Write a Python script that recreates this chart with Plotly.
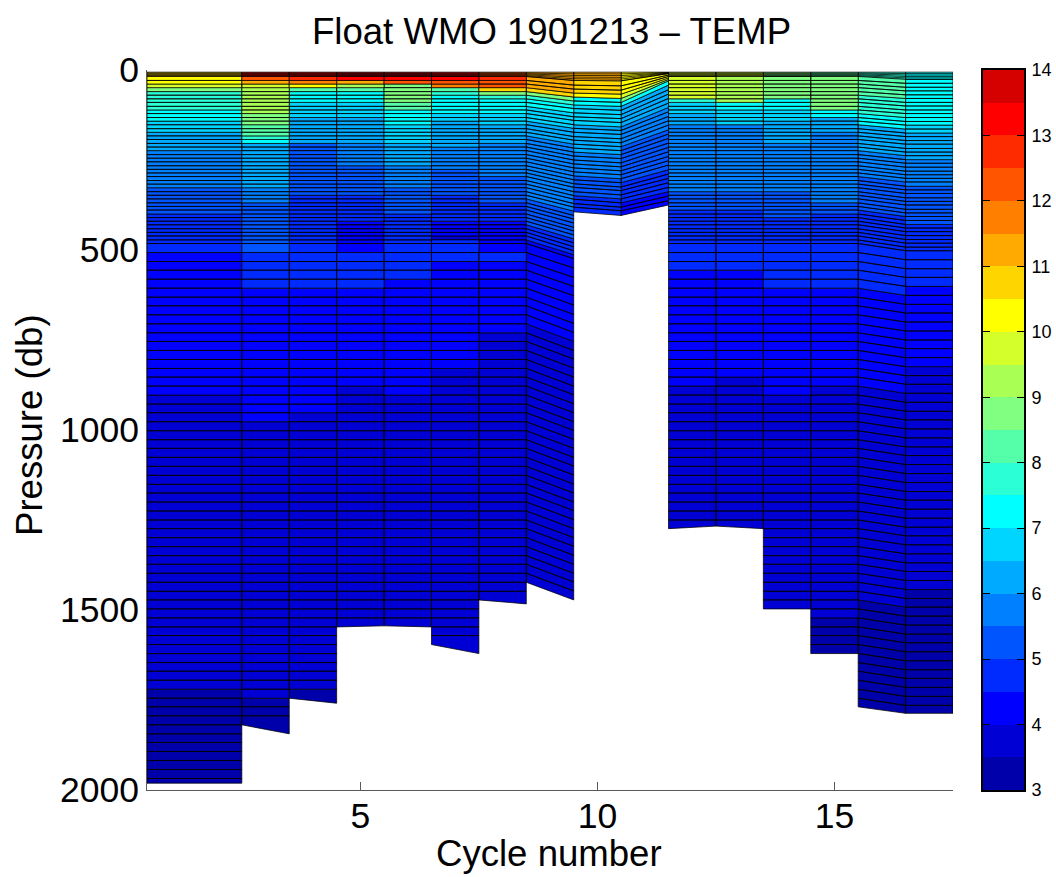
import plotly.graph_objects as go

# Column edges on the cycle axis
X_EDGES = [0.5, 2.5, 3.5, 4.5, 5.5, 6.5, 7.5, 8.5, 9.5, 10.5, 11.5, 12.5, 13.5, 14.5, 15.5, 16.5, 17.5]

# Pressure levels (db) read along the column edges
P_STD = [6, 18, 29, 39, 49, 60, 70, 80, 90, 101, 111, 121, 132, 142, 152, 163, 173, 183, 193, 204,
         214, 224, 235, 245, 255, 266, 276, 286, 296, 307, 317, 327, 338, 348, 358, 369, 379, 389, 400, 410,
         420, 430, 441, 451, 461, 472, 482, 507, 532, 556, 581, 606, 631, 655, 680, 705, 730, 754, 779, 804,
         829, 853, 878, 903, 928, 952, 977, 1002, 1027, 1051, 1076, 1101, 1126, 1151, 1175, 1200, 1225, 1250, 1274, 1299,
         1324, 1349, 1373, 1398, 1423, 1448, 1472, 1497, 1522, 1547, 1571, 1596, 1621, 1646, 1670, 1695, 1720, 1745, 1769, 1794,
         1819, 1844, 1868, 1893, 1918, 1943, 1968, 1981]
P_EDGE_9_5 = [6, 29, 42, 53, 64, 75, 86, 97, 107, 119, 130, 140, 152, 162, 173, 185, 195, 206, 217, 228,
              239, 250, 261, 272, 283, 294, 305, 316, 326, 338, 349, 359, 371, 381, 392, 404, 414, 425, 437, 447,
              458, 469, 480, 491, 502, 513, 524, 550, 576, 601, 627, 653, 679, 704, 729, 754, 779, 803, 828, 853,
              878, 902, 927, 952, 977, 1001, 1026, 1051, 1076, 1100, 1125, 1150, 1175, 1200, 1224, 1249, 1274, 1299, 1323, 1348,
              1373, 1398, 1422, 1447, 1472]
P_EDGE_10_5 = [6, 30, 44, 56, 67, 79, 90, 101, 112, 124, 135, 146, 158, 168, 179, 191, 202, 213, 224, 235,
               246, 258, 269, 280, 291, 302, 313, 325, 335, 347, 358, 369, 381, 391, 404]
P_EDGE_11_5_R = [6, 10, 14, 18, 22, 26, 30, 42, 55, 67, 79, 92, 104, 116, 129, 141, 153, 166, 178, 190,
                 203, 215, 227, 240, 252, 264, 277, 289, 301, 313, 326, 338, 350, 363, 375]
P_EDGE_16_5 = [6, 26, 37, 48, 58, 69, 79, 90, 100, 111, 121, 132, 143, 153, 164, 175, 185, 196, 206, 218,
               228, 238, 249, 259, 270, 281, 291, 301, 311, 323, 333, 343, 355, 365, 375, 387, 397, 407, 418, 429,
               439, 449, 460, 471, 481, 492, 502, 527, 552, 576, 601, 626, 651, 675, 700, 725, 750, 774, 799, 824,
               849, 873, 898, 923, 948, 972, 997, 1022, 1047, 1071, 1096, 1121, 1146, 1171, 1195, 1220, 1245, 1270, 1294, 1319,
               1344, 1369, 1393, 1418, 1443, 1468, 1492, 1517, 1542, 1567, 1591, 1616, 1641, 1666, 1690, 1715, 1740, 1765, 1787]

# Deepest pressure of each column on its left and right edge
BOTTOM_LEFT = [1981, 1819, 1745, 1547, 1544, 1596, 1472, 1423, 394, 404, 1274, 1267, 1497, 1621, 1769, 1787]
BOTTOM_RIGHT = [1981, 1844, 1759, 1544, 1547, 1621, 1483, 1472, 404, 375, 1267, 1274, 1497, 1621, 1787, 1787]

# The closely spaced surface samples inside the top cell, as fractions of that cell
SURFACE_FRACTIONS = [0.2, 0.4, 0.6, 0.8]

# Temperature in each column, one value per cell, top to bottom
T_COL_01 = [10.8, 10.3, 10.1, 9.7, 8.8, 7.9, 7.9, 7.9, 7.9, 7.9, 7.2, 7.2, 7.2, 6.8, 6.8, 6.8, 6.3, 6.3, 6.3, 6.3,
            6.3, 5.8, 5.8, 5.8, 5.8, 5.8, 5.8, 5.8, 5.8, 5.8, 5.8, 5.3, 5.3, 5.3, 5.3, 5.3, 5.3, 5.3, 4.8, 4.8,
            4.8, 4.8, 4.8, 4.8, 4.8, 4.8, 4.8, 4.3, 4.3, 4.3, 4.3, 4.3, 4.3, 4.3, 4.3, 4.3, 4.3, 4.3, 4.3, 4.3,
            4.3, 4.3, 4.3, 3.8, 3.8, 3.8, 3.8, 3.8, 3.8, 3.8, 3.8, 3.8, 3.8, 3.8, 3.8, 3.8, 3.8, 3.8, 3.8, 3.8,
            3.8, 3.8, 3.8, 3.8, 3.8, 3.8, 3.8, 3.8, 3.8, 3.8, 3.8, 3.8, 3.8, 3.8, 3.8, 3.8, 3.4, 3.4, 3.4, 3.4,
            3.4, 3.4, 3.4, 3.4, 3.4, 3.4, 3.4]
T_COL_02 = [13.0, 12.4, 11.2, 9.7, 9.2, 9.2, 9.2, 9.2, 9.2, 9.2, 9.2, 8.7, 8.7, 8.7, 8.2, 8.2, 8.2, 7.7, 7.2, 6.4,
            6.4, 6.4, 6.4, 6.4, 6.4, 6.2, 6.2, 6.2, 6.2, 6.2, 6.2, 5.8, 5.8, 5.8, 5.8, 5.3, 5.3, 5.3, 5.3, 5.3,
            5.3, 5.3, 5.1, 5.1, 5.1, 5.1, 5.1, 4.9, 4.9, 4.9, 4.9, 4.3, 4.3, 4.3, 4.3, 4.3, 4.3, 4.3, 4.3, 4.3,
            4.3, 4.3, 4.3, 4.3, 4.3, 4.3, 3.8, 3.8, 3.8, 3.8, 3.8, 3.8, 3.8, 3.8, 3.8, 3.8, 3.8, 3.8, 3.8, 3.8,
            3.8, 3.8, 3.8, 3.8, 3.8, 3.8, 3.8, 3.8, 3.8, 3.8, 3.8, 3.8, 3.8, 3.8, 3.8, 3.8, 3.8, 3.4, 3.4, 3.4]
T_COL_03 = [13.2, 12.5, 11.7, 10.3, 8.2, 7.2, 7.2, 7.2, 6.8, 6.8, 6.8, 6.8, 6.3, 6.3, 6.0, 6.0, 6.0, 6.0, 6.0, 5.3,
            5.3, 5.3, 5.3, 5.3, 5.3, 5.4, 5.4, 5.4, 5.4, 5.4, 5.4, 5.4, 5.4, 4.8, 4.8, 4.8, 4.8, 4.8, 4.8, 4.8,
            4.5, 4.5, 4.5, 4.5, 4.5, 4.5, 4.5, 4.6, 4.6, 4.6, 4.6, 4.3, 4.3, 4.3, 4.3, 4.3, 4.3, 4.3, 4.3, 4.3,
            4.3, 4.3, 4.3, 4.3, 4.3, 3.8, 3.8, 3.8, 3.8, 3.8, 3.8, 3.8, 3.8, 3.8, 3.8, 3.8, 3.8, 3.8, 3.8, 3.8,
            3.8, 3.8, 3.8, 3.8, 3.8, 3.8, 3.8, 3.8, 3.8, 3.8, 3.8, 3.8, 3.8, 3.8, 3.8, 3.8, 3.4]
T_COL_04 = [13.5, 13.1, 11.0, 9.0, 8.0, 7.2, 7.2, 7.2, 6.9, 6.9, 6.9, 6.9, 6.3, 6.3, 6.3, 6.3, 6.3, 6.3, 6.3, 5.5,
            5.5, 5.5, 5.5, 5.5, 5.5, 5.3, 5.3, 5.3, 5.3, 5.3, 5.3, 5.3, 5.3, 4.8, 4.8, 4.8, 4.8, 4.8, 4.8, 4.8,
            4.4, 4.4, 4.4, 4.4, 4.4, 4.4, 4.4, 4.6, 4.6, 4.6, 4.6, 4.3, 4.3, 4.3, 4.3, 4.3, 4.3, 4.3, 4.3, 4.3,
            4.3, 4.3, 3.8, 3.8, 3.8, 3.8, 3.8, 3.8, 3.8, 3.8, 3.8, 3.8, 3.8, 3.8, 3.8, 3.8, 3.8, 3.8, 3.8, 3.8,
            3.8, 3.8, 3.8, 3.8, 3.8, 3.8, 3.8, 3.8, 3.8]
T_COL_05 = [13.7, 13.2, 12.0, 8.8, 8.7, 8.7, 8.7, 8.7, 8.0, 8.0, 7.2, 7.2, 7.2, 7.2, 6.5, 6.5, 6.5, 6.5, 6.5, 6.0,
            6.0, 6.0, 6.0, 6.0, 6.0, 5.6, 5.6, 5.6, 5.6, 5.6, 5.6, 5.2, 5.2, 5.2, 5.2, 5.2, 5.2, 5.2, 4.6, 4.6,
            4.6, 4.6, 4.6, 4.6, 4.6, 4.6, 4.6, 4.9, 4.9, 4.9, 4.3, 4.3, 4.3, 4.3, 4.3, 4.3, 4.3, 4.3, 4.3, 4.3,
            4.3, 4.3, 4.3, 3.8, 3.8, 3.8, 3.8, 3.8, 3.8, 3.8, 3.8, 3.8, 3.8, 3.8, 3.8, 3.8, 3.8, 3.8, 3.8, 3.8,
            3.8, 3.8, 3.8, 3.8, 3.8, 3.8, 3.8, 3.8, 3.8]
T_COL_06 = [13.4, 13.0, 12.4, 11.8, 8.3, 7.8, 7.2, 7.2, 7.2, 7.0, 7.0, 6.7, 6.7, 6.0, 6.0, 6.0, 6.0, 6.0, 6.0, 6.0,
            5.6, 5.6, 5.6, 5.6, 5.6, 5.6, 5.3, 5.3, 5.3, 5.3, 5.3, 5.3, 5.3, 4.8, 4.8, 4.8, 4.8, 4.8, 4.8, 4.8,
            4.3, 4.3, 4.3, 4.3, 3.9, 4.5, 4.5, 4.7, 4.3, 4.3, 4.3, 4.3, 4.3, 4.3, 4.3, 4.3, 4.3, 4.3, 4.3, 4.3,
            3.8, 3.8, 3.8, 3.8, 3.8, 3.8, 3.8, 3.8, 3.8, 3.8, 3.8, 3.8, 3.8, 3.8, 3.8, 3.8, 3.8, 3.8, 3.8, 3.8,
            3.8, 3.8, 3.8, 3.8, 3.8, 3.8, 3.8, 3.8, 3.8, 3.8, 3.8]
T_COL_07 = [12.3, 12.6, 12.3, 12.0, 10.7, 8.5, 7.6, 7.2, 7.2, 7.0, 7.0, 6.7, 6.7, 6.7, 6.1, 6.1, 6.1, 6.1, 6.1, 5.6,
            5.6, 5.6, 5.6, 5.6, 5.6, 5.6, 5.6, 5.6, 5.3, 5.3, 5.3, 5.3, 5.3, 5.3, 5.3, 4.8, 4.8, 4.8, 4.8, 4.8,
            4.4, 4.4, 4.4, 4.4, 4.4, 4.1, 4.1, 4.7, 4.3, 4.3, 4.3, 4.3, 4.3, 4.3, 4.3, 4.3, 3.8, 3.8, 3.8, 3.8,
            3.8, 3.8, 3.8, 3.8, 3.8, 3.8, 3.8, 3.8, 3.8, 3.8, 3.8, 3.8, 3.8, 3.8, 3.8, 3.8, 3.8, 3.8, 3.8, 3.8,
            3.8, 3.8, 3.8, 3.8, 3.8, 3.8]
T_COL_08 = [11.4, 11.3, 11.3, 11.3, 10.8, 8.5, 7.8, 7.3, 7.3, 6.8, 6.8, 6.8, 6.8, 6.3, 6.3, 6.3, 6.3, 5.9, 5.9, 5.9,
            5.9, 5.9, 5.9, 5.9, 5.9, 5.6, 5.6, 5.6, 5.6, 5.6, 5.6, 5.6, 5.6, 5.6, 5.2, 5.2, 5.2, 5.2, 5.2, 5.0,
            5.0, 4.7, 4.7, 4.7, 4.7, 4.2, 4.2, 4.3, 4.3, 4.3, 4.3, 4.3, 4.3, 4.3, 4.3, 3.8, 3.8, 3.8, 3.8, 3.8,
            3.8, 3.8, 3.8, 3.8, 3.8, 3.8, 3.8, 3.8, 3.8, 3.8, 3.8, 3.8, 3.8, 3.8, 3.8, 3.8, 3.8, 3.8, 3.8, 3.8,
            3.8, 3.8, 3.8, 3.8]
T_COL_09 = [11.0, 10.8, 10.8, 10.8, 10.2, 7.3, 7.3, 6.8, 6.8, 6.8, 6.8, 6.8, 6.3, 6.3, 6.3, 6.3, 6.3, 6.3, 6.3, 5.8,
            5.8, 5.8, 5.8, 5.8, 5.8, 5.3, 5.3, 5.3, 5.3, 5.3, 4.9, 4.9, 4.9, 4.9]
T_COL_10 = [10.2, 10.2, 10.2, 10.2, 9.7, 8.5, 7.3, 6.2, 6.2, 6.2, 6.2, 6.2, 5.8, 5.8, 5.8, 5.8, 5.8, 5.4, 5.4, 5.4,
            5.4, 5.4, 5.4, 5.4, 5.4, 5.4, 4.9, 4.9, 4.9, 4.9, 4.9, 4.4, 4.4, 4.4]
T_COL_11 = [9.8, 9.7, 9.7, 9.7, 9.7, 9.7, 9.7, 7.8, 6.9, 6.9, 6.9, 6.3, 6.3, 6.3, 5.8, 5.8, 5.8, 5.8, 5.8, 5.8,
            5.8, 5.8, 5.7, 5.7, 5.7, 5.7, 5.7, 5.7, 5.7, 5.7, 5.7, 5.7, 5.3, 5.3, 5.3, 5.3, 5.3, 4.7, 4.7, 4.7,
            4.7, 4.7, 4.7, 4.7, 4.7, 4.7, 4.7, 4.7, 4.7, 4.3, 4.3, 4.3, 4.3, 4.3, 4.3, 4.3, 4.3, 4.3, 4.3, 4.3,
            4.3, 4.3, 3.8, 3.8, 3.8, 3.8, 3.8, 3.8, 3.8, 3.8, 3.8, 3.8, 3.8, 3.8, 3.8, 3.8, 3.8, 3.8]
T_COL_12 = [9.5, 9.2, 9.2, 9.2, 9.2, 9.2, 9.2, 9.2, 7.2, 7.2, 6.5, 6.5, 6.5, 6.5, 5.9, 5.9, 5.9, 5.9, 5.9, 5.9,
            5.9, 5.9, 5.7, 5.7, 5.7, 5.7, 5.7, 5.7, 5.7, 5.7, 5.7, 5.7, 5.3, 5.3, 5.3, 5.3, 5.3, 4.8, 4.8, 4.8,
            4.8, 4.8, 4.8, 4.8, 4.8, 4.8, 4.7, 4.7, 4.7, 4.3, 4.3, 4.3, 4.3, 4.3, 4.3, 4.3, 4.3, 4.3, 4.3, 4.3,
            4.3, 3.8, 3.8, 3.8, 3.8, 3.8, 3.8, 3.8, 3.8, 3.8, 3.8, 3.8, 3.8, 3.8, 3.8, 3.8, 3.8, 3.8]
T_COL_13 = [8.7, 8.8, 8.8, 8.8, 8.8, 8.8, 8.8, 7.3, 7.3, 7.3, 6.8, 6.8, 6.8, 6.2, 6.2, 6.2, 6.2, 6.2, 6.2, 5.8,
            5.8, 5.8, 5.8, 5.8, 5.8, 5.8, 5.8, 5.8, 5.8, 5.8, 5.8, 5.8, 5.3, 5.3, 5.3, 5.3, 5.3, 5.3, 5.3, 4.7,
            4.7, 4.7, 4.7, 4.7, 4.7, 4.7, 4.7, 4.8, 4.8, 4.8, 4.8, 4.3, 4.3, 4.3, 4.3, 4.3, 4.3, 4.3, 4.3, 4.3,
            4.3, 4.3, 4.3, 3.8, 3.8, 3.8, 3.8, 3.8, 3.8, 3.8, 3.8, 3.8, 3.8, 3.8, 3.8, 3.8, 3.8, 3.8, 3.8, 3.8,
            3.8, 3.8, 3.8, 3.8, 3.8, 3.8, 3.8]
T_COL_14 = [8.3, 8.6, 8.6, 8.6, 8.6, 8.6, 8.6, 8.6, 8.6, 8.6, 7.2, 7.2, 6.3, 6.3, 6.3, 6.3, 5.9, 5.9, 5.9, 5.9,
            5.9, 5.9, 5.9, 5.9, 5.9, 5.9, 5.9, 5.6, 5.6, 5.6, 5.6, 5.6, 5.6, 5.6, 5.6, 5.2, 5.2, 5.2, 4.6, 4.6,
            4.6, 4.6, 4.6, 4.6, 4.6, 4.6, 4.6, 4.8, 4.8, 4.8, 4.8, 4.3, 4.3, 4.3, 4.3, 4.3, 4.3, 4.3, 4.3, 4.3,
            4.3, 4.3, 3.8, 3.8, 3.8, 3.8, 3.8, 3.8, 3.8, 3.8, 3.8, 3.8, 3.8, 3.8, 3.8, 3.8, 3.8, 3.8, 3.8, 3.8,
            3.8, 3.8, 3.8, 3.8, 3.8, 3.8, 3.8, 3.8, 3.4, 3.4, 3.4, 3.4]
T_COL_15 = [7.8, 8.0, 8.0, 8.0, 8.0, 8.0, 7.8, 7.8, 7.8, 7.8, 7.8, 7.1, 7.1, 7.1, 6.3, 6.3, 6.3, 6.3, 6.3, 6.3,
            6.3, 5.8, 5.8, 5.8, 5.8, 5.8, 5.8, 5.8, 5.3, 5.3, 5.3, 5.3, 5.3, 5.3, 5.3, 5.3, 5.3, 4.6, 4.6, 4.6,
            4.6, 4.6, 4.6, 4.6, 4.6, 4.6, 4.6, 4.8, 4.8, 4.8, 4.8, 4.3, 4.3, 4.3, 4.3, 4.3, 4.3, 4.3, 4.3, 4.3,
            4.3, 4.3, 3.8, 3.8, 3.8, 3.8, 3.8, 3.8, 3.8, 3.8, 3.8, 3.8, 3.8, 3.8, 3.8, 3.8, 3.8, 3.8, 3.8, 3.8,
            3.8, 3.8, 3.8, 3.8, 3.8, 3.8, 3.4, 3.4, 3.4, 3.4, 3.4, 3.4, 3.4, 3.4, 3.4, 3.4, 3.4, 3.4]
T_COL_16 = [7.3, 7.4, 7.4, 7.4, 7.4, 7.4, 7.4, 7.4, 7.4, 7.4, 7.4, 7.4, 7.4, 6.8, 6.8, 6.2, 6.2, 6.2, 6.2, 6.2,
            6.2, 6.2, 5.8, 5.8, 5.8, 5.8, 5.8, 5.8, 5.8, 5.3, 5.3, 5.3, 5.3, 5.3, 5.3, 5.3, 5.1, 5.1, 5.1, 4.5,
            4.5, 4.5, 4.5, 4.5, 4.5, 4.5, 4.5, 4.7, 4.7, 4.7, 4.3, 4.3, 4.3, 4.3, 4.3, 4.3, 4.3, 4.3, 4.3, 3.8,
            3.8, 3.8, 3.8, 3.8, 3.8, 3.8, 3.8, 3.8, 3.8, 3.8, 3.8, 3.8, 3.8, 3.8, 3.8, 3.8, 3.8, 3.8, 3.8, 3.8,
            3.8, 3.8, 3.8, 3.8, 3.4, 3.4, 3.4, 3.4, 3.4, 3.4, 3.4, 3.4, 3.4, 3.4, 3.4, 3.4, 3.4, 3.4]

T_COLS = [T_COL_01, T_COL_02, T_COL_03, T_COL_04, T_COL_05, T_COL_06, T_COL_07, T_COL_08,
          T_COL_09, T_COL_10, T_COL_11, T_COL_12, T_COL_13, T_COL_14, T_COL_15, T_COL_16]
LEFT_LEVELS = [P_STD] * 8 + [P_EDGE_9_5, P_EDGE_10_5] + [P_STD] * 5 + [P_EDGE_16_5]
RIGHT_LEVELS = [P_STD] * 7 + [P_EDGE_9_5, P_EDGE_10_5, P_EDGE_11_5_R] + [P_STD] * 4 + [P_EDGE_16_5, P_EDGE_16_5]

# Colour scale: 22 bands of half a degree from 3 to 14
T_MIN = 3.0
T_STEP = 0.5
BAND_COLORS = ["#0000aa", "#0000d5", "#0000ff", "#002bff", "#0055ff", "#0080ff", "#00aaff", "#00d5ff",
               "#00ffff", "#2bffd5", "#55ffaa", "#80ff80", "#aaff55", "#d5ff2b", "#ffff00", "#ffd500",
               "#ffaa00", "#ff8000", "#ff5500", "#ff2b00", "#ff0000", "#d50000"]
CBAR_TICKS = [3, 4, 5, 6, 7, 8, 9, 10, 11, 12, 13, 14]
X_TICKS = [5, 10, 15]
Y_TICKS = [0, 500, 1000, 1500, 2000]

FONT = "Liberation Sans"
W, H = 1056, 877

polys = [([], []) for _ in BAND_COLORS]
surf_x, surf_y = [], []
for c, temps in enumerate(T_COLS):
    left, right = LEFT_LEVELS[c], RIGHT_LEVELS[c]
    n = len(temps)
    xl, xr = X_EDGES[c], X_EDGES[c + 1]
    for k, t in enumerate(temps):
        band = min(int((t - T_MIN) / T_STEP), len(BAND_COLORS) - 1)
        lb = BOTTOM_LEFT[c] if k == n - 1 else left[k + 1]
        rb = BOTTOM_RIGHT[c] if k == n - 1 else right[k + 1]
        xs, ys = polys[band]
        xs += [xl, xr, xr, xl, xl, None]
        ys += [left[k], right[k], rb, lb, left[k], None]
    for f in SURFACE_FRACTIONS:
        surf_x += [xl, xr, None]
        surf_y += [left[0] + f * (left[1] - left[0]), right[0] + f * (right[1] - right[0]), None]

fig = go.Figure()
for color, (xs, ys) in zip(BAND_COLORS, polys):
    if xs:
        fig.add_trace(go.Scatter(x=xs, y=ys, mode="lines", fill="toself", fillcolor=color,
                                 line=dict(color="black", width=0.75), hoverinfo="skip",
                                 showlegend=False, xaxis="x", yaxis="y"))
fig.add_trace(go.Scatter(x=surf_x, y=surf_y, mode="lines", line=dict(color="black", width=0.75),
                         hoverinfo="skip", showlegend=False, xaxis="x", yaxis="y"))

nb = len(BAND_COLORS)
scale = []
for i, col in enumerate(BAND_COLORS):
    scale += [[i / nb, col], [(i + 1) / nb, col]]
fig.add_trace(go.Heatmap(z=[[T_MIN + (i + 0.5) * T_STEP] for i in range(nb)],
                         x=[0, 1], y=[T_MIN + i * T_STEP for i in range(nb + 1)],
                         colorscale=scale, zmin=T_MIN, zmax=T_MIN + nb * T_STEP,
                         showscale=False, hoverinfo="skip", xaxis="x2", yaxis="y2"))

GRAY = "#5a5a5a"
fig.update_layout(
    width=W, height=H, autosize=False, margin=dict(l=0, r=0, t=0, b=0),
    paper_bgcolor="white", plot_bgcolor="white", showlegend=False,
    font=dict(family=FONT, color="black"),
    title=dict(text="Float WMO 1901213 – TEMP", font=dict(family=FONT, size=36.6, color="black"),
               x=551.5 / W, xanchor="center", y=1 - 31 / H, yanchor="middle"),
    xaxis=dict(domain=[147 / W, 953 / W], range=[0.5, 17.5], tickvals=X_TICKS, ticks="inside", ticklen=8,
               tickcolor=GRAY, showline=True, linecolor=GRAY, linewidth=1, showgrid=False, zeroline=False,
               tickfont=dict(size=35.5), layer="below traces", anchor="y", automargin=False,
               ticklabelstandoff=-6),
    yaxis=dict(domain=[87 / H, 807 / H], range=[2000, 0], tickvals=Y_TICKS, ticks="inside", ticklen=8,
               tickcolor=GRAY, showline=True, linecolor=GRAY, linewidth=1, showgrid=False, zeroline=False,
               tickfont=dict(size=35.5), layer="below traces", anchor="x", automargin=False,
               ticklabelstandoff=0),
    xaxis2=dict(domain=[983 / W, 1024 / W], range=[0, 1], showticklabels=False, ticks="", showgrid=False,
                zeroline=False, showline=True, linecolor="black", linewidth=2, mirror=True, anchor="y2",
                automargin=False),
    yaxis2=dict(domain=[87 / H, 807 / H], range=[3, 14], tickvals=CBAR_TICKS, ticks="inside", ticklen=7,
                tickcolor="black", side="right", showline=True, linecolor="black", linewidth=2, mirror="ticks",
                showgrid=False, zeroline=False, tickfont=dict(size=18), anchor="x2", ticklabelstandoff=2,
                automargin=False),
    annotations=[
        dict(text="Cycle number", xref="paper", yref="paper", x=549 / W, y=1 - 853 / H,
             xanchor="center", yanchor="middle", showarrow=False, font=dict(size=36.6, color="black")),
        dict(text="Pressure (db)", xref="paper", yref="paper", x=30 / W, y=1 - 425 / H, textangle=-90,
             xanchor="center", yanchor="middle", showarrow=False, font=dict(size=36.6, color="black")),
    ],
)

fig.write_html("out.html", config={"displayModeBar": False}, post_script="document.body.style.margin='0';")
